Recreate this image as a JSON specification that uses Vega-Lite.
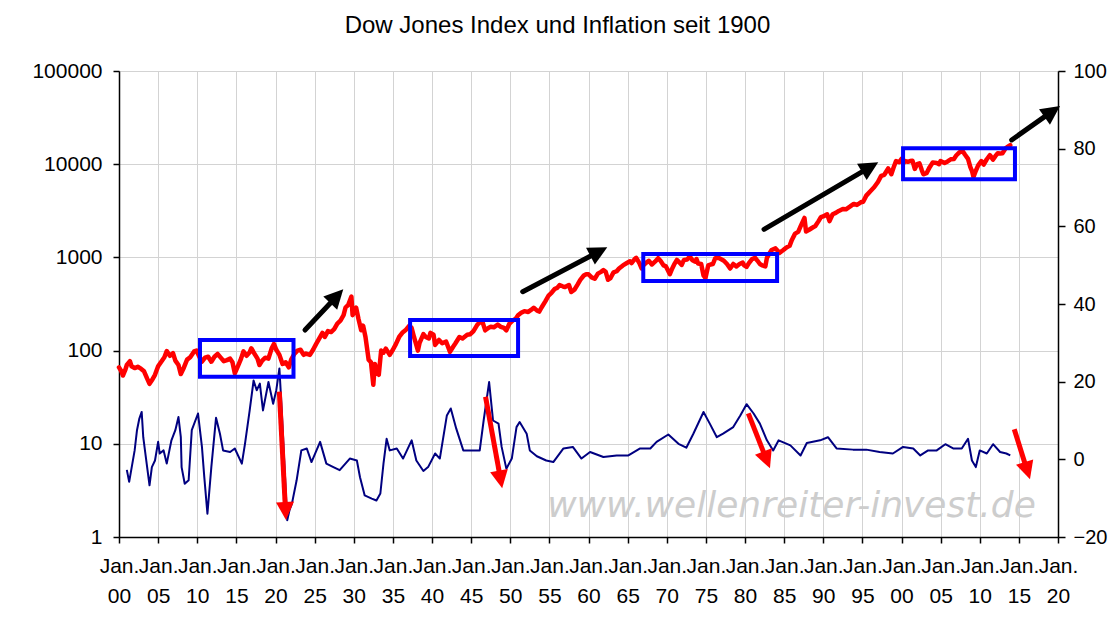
{
  "$schema": "https://vega.github.io/schema/vega-lite/v6.json",
  "width": 939,
  "height": 466,
  "autosize": {"type": "none"},
  "padding": {"left": 119, "top": 71, "right": 51, "bottom": 81},
  "background": "white",
  "title": {"text": "Dow Jones Index und Inflation seit 1900", "anchor": "middle", "dx": -31, "fontSize": 24, "fontWeight": "normal", "font": "Liberation Sans", "color": "black", "offset": 3, "baseline": "alphabetic"},
  "datasets": {
    "dow": [
      {"t":1900.0,"v":66},{"t":1900.3,"v":60},{"t":1900.5,"v":54},{"t":1900.8,"v":62},{"t":1901.0,"v":70},{"t":1901.4,"v":77},{"t":1901.6,"v":68},{"t":1902.0,"v":65},{"t":1902.4,"v":67},{"t":1902.8,"v":64},{"t":1903.2,"v":60},{"t":1903.6,"v":50},{"t":1903.9,"v":44},{"t":1904.2,"v":48},{"t":1904.6,"v":55},{"t":1905.0,"v":68},{"t":1905.4,"v":76},{"t":1905.8,"v":85},{"t":1906.1,"v":99},{"t":1906.5,"v":88},{"t":1906.9,"v":94},{"t":1907.2,"v":78},{"t":1907.6,"v":70},{"t":1907.9,"v":56},{"t":1908.3,"v":66},{"t":1908.7,"v":80},{"t":1909.1,"v":85},{"t":1909.6,"v":98},{"t":1909.9,"v":100},{"t":1910.3,"v":85},{"t":1910.6,"v":76},{"t":1911.0,"v":84},{"t":1911.4,"v":86},{"t":1911.8,"v":76},{"t":1912.2,"v":86},{"t":1912.6,"v":92},{"t":1913.0,"v":84},{"t":1913.4,"v":77},{"t":1913.8,"v":79},{"t":1914.2,"v":82},{"t":1914.5,"v":75},{"t":1914.8,"v":57},{"t":1915.2,"v":68},{"t":1915.6,"v":82},{"t":1915.9,"v":98},{"t":1916.3,"v":88},{"t":1916.7,"v":96},{"t":1916.9,"v":106},{"t":1917.3,"v":93},{"t":1917.7,"v":82},{"t":1917.95,"v":70},{"t":1918.3,"v":78},{"t":1918.7,"v":84},{"t":1919.1,"v":82},{"t":1919.5,"v":105},{"t":1919.8,"v":118},{"t":1920.1,"v":102},{"t":1920.5,"v":90},{"t":1920.9,"v":72},{"t":1921.3,"v":75},{"t":1921.7,"v":66},{"t":1922.0,"v":80},{"t":1922.4,"v":92},{"t":1922.8,"v":100},{"t":1923.2,"v":102},{"t":1923.6,"v":90},{"t":1923.9,"v":93},{"t":1924.4,"v":90},{"t":1924.8,"v":102},{"t":1925.2,"v":118},{"t":1925.6,"v":135},{"t":1926.0,"v":155},{"t":1926.3,"v":140},{"t":1926.7,"v":162},{"t":1927.1,"v":158},{"t":1927.5,"v":170},{"t":1927.9,"v":195},{"t":1928.3,"v":210},{"t":1928.7,"v":240},{"t":1928.95,"v":290},{"t":1929.3,"v":310},{"t":1929.7,"v":380},{"t":1929.85,"v":240},{"t":1930.1,"v":260},{"t":1930.3,"v":290},{"t":1930.6,"v":220},{"t":1930.95,"v":165},{"t":1931.2,"v":185},{"t":1931.5,"v":140},{"t":1931.9,"v":80},{"t":1932.2,"v":75},{"t":1932.5,"v":43},{"t":1932.7,"v":72},{"t":1933.0,"v":58},{"t":1933.2,"v":55},{"t":1933.5,"v":100},{"t":1933.8,"v":95},{"t":1934.1,"v":105},{"t":1934.6,"v":90},{"t":1935.0,"v":102},{"t":1935.4,"v":118},{"t":1935.8,"v":140},{"t":1936.2,"v":155},{"t":1936.6,"v":165},{"t":1937.1,"v":185},{"t":1937.4,"v":175},{"t":1937.7,"v":140},{"t":1938.2,"v":100},{"t":1938.4,"v":120},{"t":1938.9,"v":150},{"t":1939.2,"v":140},{"t":1939.6,"v":135},{"t":1939.8,"v":155},{"t":1940.2,"v":148},{"t":1940.4,"v":115},{"t":1940.9,"v":130},{"t":1941.3,"v":120},{"t":1941.8,"v":125},{"t":1942.3,"v":97},{"t":1942.7,"v":110},{"t":1943.0,"v":120},{"t":1943.5,"v":140},{"t":1943.9,"v":135},{"t":1944.5,"v":148},{"t":1944.9,"v":150},{"t":1945.3,"v":162},{"t":1945.8,"v":190},{"t":1946.1,"v":200},{"t":1946.4,"v":210},{"t":1946.8,"v":165},{"t":1947.2,"v":175},{"t":1947.5,"v":180},{"t":1947.9,"v":178},{"t":1948.4,"v":190},{"t":1948.8,"v":180},{"t":1949.2,"v":175},{"t":1949.5,"v":165},{"t":1949.9,"v":195},{"t":1950.3,"v":210},{"t":1950.7,"v":220},{"t":1951.0,"v":240},{"t":1951.4,"v":255},{"t":1951.8,"v":265},{"t":1952.3,"v":260},{"t":1952.7,"v":275},{"t":1953.0,"v":288},{"t":1953.4,"v":270},{"t":1953.7,"v":262},{"t":1954.0,"v":290},{"t":1954.5,"v":340},{"t":1954.9,"v":390},{"t":1955.3,"v":420},{"t":1955.7,"v":460},{"t":1956.0,"v":470},{"t":1956.3,"v":505},{"t":1956.7,"v":490},{"t":1957.0,"v":480},{"t":1957.5,"v":505},{"t":1957.8,"v":425},{"t":1958.2,"v":450},{"t":1958.6,"v":510},{"t":1958.95,"v":575},{"t":1959.4,"v":640},{"t":1959.7,"v":660},{"t":1960.0,"v":660},{"t":1960.4,"v":610},{"t":1960.8,"v":590},{"t":1961.2,"v":670},{"t":1961.6,"v":700},{"t":1961.9,"v":730},{"t":1962.2,"v":700},{"t":1962.5,"v":575},{"t":1962.8,"v":600},{"t":1963.2,"v":690},{"t":1963.6,"v":710},{"t":1963.9,"v":760},{"t":1964.4,"v":820},{"t":1964.9,"v":870},{"t":1965.3,"v":910},{"t":1965.5,"v":870},{"t":1965.9,"v":960},{"t":1966.1,"v":990},{"t":1966.5,"v":870},{"t":1966.8,"v":760},{"t":1967.0,"v":820},{"t":1967.4,"v":880},{"t":1967.7,"v":920},{"t":1968.1,"v":840},{"t":1968.5,"v":900},{"t":1968.9,"v":980},{"t":1969.2,"v":920},{"t":1969.6,"v":820},{"t":1969.9,"v":800},{"t":1970.4,"v":660},{"t":1970.7,"v":760},{"t":1970.95,"v":840},{"t":1971.3,"v":940},{"t":1971.7,"v":870},{"t":1971.9,"v":830},{"t":1972.2,"v":940},{"t":1972.6,"v":950},{"t":1972.95,"v":1020},{"t":1973.3,"v":930},{"t":1973.6,"v":900},{"t":1973.8,"v":960},{"t":1974.0,"v":860},{"t":1974.4,"v":850},{"t":1974.7,"v":640},{"t":1974.95,"v":600},{"t":1975.3,"v":820},{"t":1975.6,"v":840},{"t":1975.9,"v":850},{"t":1976.2,"v":980},{"t":1976.6,"v":990},{"t":1976.9,"v":960},{"t":1977.3,"v":920},{"t":1977.7,"v":850},{"t":1978.1,"v":760},{"t":1978.5,"v":850},{"t":1978.9,"v":800},{"t":1979.3,"v":850},{"t":1979.7,"v":880},{"t":1979.9,"v":820},{"t":1980.2,"v":790},{"t":1980.5,"v":870},{"t":1980.9,"v":960},{"t":1981.3,"v":990},{"t":1981.6,"v":920},{"t":1981.9,"v":850},{"t":1982.2,"v":820},{"t":1982.6,"v":800},{"t":1982.8,"v":990},{"t":1983.0,"v":1060},{"t":1983.4,"v":1200},{"t":1983.9,"v":1250},{"t":1984.4,"v":1120},{"t":1984.9,"v":1200},{"t":1985.3,"v":1280},{"t":1985.7,"v":1330},{"t":1985.99,"v":1540},{"t":1986.4,"v":1800},{"t":1986.8,"v":1880},{"t":1987.1,"v":2150},{"t":1987.6,"v":2650},{"t":1987.8,"v":1900},{"t":1988.2,"v":1980},{"t":1988.6,"v":2080},{"t":1988.99,"v":2170},{"t":1989.4,"v":2450},{"t":1989.7,"v":2700},{"t":1989.99,"v":2750},{"t":1990.5,"v":2900},{"t":1990.8,"v":2450},{"t":1991.2,"v":2900},{"t":1991.6,"v":3000},{"t":1991.99,"v":3150},{"t":1992.5,"v":3300},{"t":1992.9,"v":3280},{"t":1993.4,"v":3500},{"t":1993.9,"v":3750},{"t":1994.3,"v":3650},{"t":1994.8,"v":3900},{"t":1995.1,"v":3950},{"t":1995.5,"v":4600},{"t":1995.99,"v":5100},{"t":1996.5,"v":5650},{"t":1996.99,"v":6450},{"t":1997.4,"v":7500},{"t":1997.8,"v":7700},{"t":1998.3,"v":9000},{"t":1998.7,"v":7800},{"t":1998.99,"v":9200},{"t":1999.3,"v":10800},{"t":1999.7,"v":10500},{"t":1999.99,"v":11400},{"t":2000.2,"v":10200},{"t":2000.5,"v":10800},{"t":2000.8,"v":10600},{"t":2001.1,"v":10800},{"t":2001.4,"v":10900},{"t":2001.7,"v":8900},{"t":2001.99,"v":10000},{"t":2002.3,"v":10200},{"t":2002.6,"v":8600},{"t":2002.8,"v":7800},{"t":2003.2,"v":8000},{"t":2003.6,"v":9300},{"t":2003.99,"v":10400},{"t":2004.5,"v":10300},{"t":2004.8,"v":10000},{"t":2004.99,"v":10800},{"t":2005.5,"v":10300},{"t":2005.9,"v":10700},{"t":2006.3,"v":11300},{"t":2006.7,"v":11400},{"t":2006.99,"v":12400},{"t":2007.4,"v":13400},{"t":2007.8,"v":13900},{"t":2008.1,"v":12700},{"t":2008.5,"v":11400},{"t":2008.8,"v":9300},{"t":2009.0,"v":8500},{"t":2009.2,"v":7300},{"t":2009.5,"v":8500},{"t":2009.8,"v":9700},{"t":2010.2,"v":10800},{"t":2010.5,"v":9900},{"t":2010.9,"v":11300},{"t":2011.3,"v":12500},{"t":2011.7,"v":11200},{"t":2011.99,"v":12200},{"t":2012.3,"v":13100},{"t":2012.6,"v":13000},{"t":2012.9,"v":13100},{"t":2013.3,"v":14800},{"t":2013.6,"v":15400},{"t":2013.9,"v":16000}
    ],
    "infl": [
      {"t":1901.0,"v":-2.7},{"t":1901.3,"v":-5.8},{"t":1902.0,"v":2.3},{"t":1902.3,"v":7.5},{"t":1902.6,"v":10.5},{"t":1902.9,"v":12.2},{"t":1903.1,"v":5.7},{"t":1903.4,"v":1.0},{"t":1903.9,"v":-6.7},{"t":1904.2,"v":-2.0},{"t":1904.6,"v":-0.3},{"t":1905.0,"v":4.5},{"t":1905.2,"v":1.5},{"t":1905.7,"v":2.3},{"t":1906.1,"v":-1.1},{"t":1906.7,"v":4.9},{"t":1907.2,"v":7.5},{"t":1907.6,"v":10.9},{"t":1907.9,"v":5.7},{"t":1908.0,"v":-2.0},{"t":1908.4,"v":-6.3},{"t":1908.9,"v":-5.4},{"t":1909.3,"v":7.5},{"t":1910.1,"v":11.8},{"t":1910.6,"v":3.2},{"t":1910.9,"v":-4.6},{"t":1911.3,"v":-14.0},{"t":1911.8,"v":-2.0},{"t":1912.4,"v":10.7},{"t":1912.9,"v":6.6},{"t":1913.3,"v":2.3},{"t":1914.2,"v":1.9},{"t":1914.8,"v":2.8},{"t":1915.7,"v":-1.1},{"t":1916.1,"v":4.0},{"t":1916.7,"v":12.6},{"t":1917.2,"v":20.3},{"t":1917.6,"v":17.8},{"t":1918.0,"v":19.5},{"t":1918.4,"v":12.6},{"t":1919.1,"v":19.9},{"t":1919.7,"v":14.3},{"t":1920.1,"v":17.8},{"t":1920.5,"v":23.4},{"t":1920.8,"v":12.6},{"t":1921.2,"v":-3.7},{"t":1921.5,"v":-15.7},{"t":1921.8,"v":-13.0},{"t":1922.1,"v":-11.4},{"t":1922.7,"v":-5.4},{"t":1923.3,"v":2.3},{"t":1924.0,"v":2.8},{"t":1924.6,"v":-0.7},{"t":1925.7,"v":4.5},{"t":1926.5,"v":-1.1},{"t":1927.4,"v":-2.0},{"t":1928.2,"v":-2.8},{"t":1929.5,"v":0.2},{"t":1930.4,"v":-0.3},{"t":1930.8,"v":-4.6},{"t":1931.4,"v":-9.3},{"t":1932.3,"v":-10.1},{"t":1932.9,"v":-10.6},{"t":1933.4,"v":-8.8},{"t":1933.8,"v":-1.1},{"t":1934.2,"v":5.3},{"t":1934.6,"v":2.3},{"t":1935.5,"v":2.8},{"t":1936.3,"v":0.2},{"t":1937.4,"v":4.9},{"t":1938.0,"v":-0.3},{"t":1938.9,"v":-3.0},{"t":1939.5,"v":-2.0},{"t":1940.4,"v":1.5},{"t":1941.0,"v":0.2},{"t":1941.9,"v":11.3},{"t":1942.4,"v":13.1},{"t":1943.1,"v":7.9},{"t":1944.0,"v":2.3},{"t":1944.8,"v":2.3},{"t":1946.1,"v":2.3},{"t":1946.6,"v":10.0},{"t":1947.3,"v":19.9},{"t":1947.8,"v":10.0},{"t":1948.5,"v":9.2},{"t":1948.9,"v":3.2},{"t":1949.5,"v":-2.4},{"t":1950.2,"v":0.2},{"t":1950.8,"v":8.3},{"t":1951.2,"v":9.6},{"t":1952.1,"v":6.6},{"t":1952.5,"v":2.3},{"t":1953.4,"v":0.8},{"t":1954.6,"v":-0.3},{"t":1955.5,"v":-0.7},{"t":1956.8,"v":2.8},{"t":1958.0,"v":3.2},{"t":1959.1,"v":0.2},{"t":1960.2,"v":1.9},{"t":1961.9,"v":0.6},{"t":1963.6,"v":1.0},{"t":1965.1,"v":1.0},{"t":1966.6,"v":2.8},{"t":1967.9,"v":2.8},{"t":1968.7,"v":4.5},{"t":1970.2,"v":6.4},{"t":1971.5,"v":4.0},{"t":1972.5,"v":3.0},{"t":1973.4,"v":6.6},{"t":1974.7,"v":12.2},{"t":1975.5,"v":9.2},{"t":1976.4,"v":5.7},{"t":1977.2,"v":6.6},{"t":1978.5,"v":8.3},{"t":1979.4,"v":11.3},{"t":1980.2,"v":14.2},{"t":1981.1,"v":11.8},{"t":1981.9,"v":9.2},{"t":1982.8,"v":4.9},{"t":1983.6,"v":2.3},{"t":1984.3,"v":4.9},{"t":1985.8,"v":3.6},{"t":1987.1,"v":1.0},{"t":1987.9,"v":4.2},{"t":1989.6,"v":4.9},{"t":1990.6,"v":5.7},{"t":1991.7,"v":2.8},{"t":1993.8,"v":2.5},{"t":1995.5,"v":2.5},{"t":1997.2,"v":1.9},{"t":1998.9,"v":1.5},{"t":2000.2,"v":3.2},{"t":2001.5,"v":2.8},{"t":2002.4,"v":1.0},{"t":2003.4,"v":2.3},{"t":2004.5,"v":2.3},{"t":2005.6,"v":3.9},{"t":2006.6,"v":2.8},{"t":2007.7,"v":2.8},{"t":2008.5,"v":5.3},{"t":2009.0,"v":-0.3},{"t":2009.5,"v":-2.0},{"t":2010.0,"v":2.3},{"t":2010.9,"v":1.5},{"t":2011.7,"v":3.9},{"t":2012.6,"v":1.9},{"t":2013.4,"v":1.5},{"t":2013.9,"v":1.0}
    ],
    "boxes": [
      {"t0":1910.35,"t1":1922.3,"v0":52.5,"v1":130},
      {"t0":1937.2,"t1":1951.0,"v0":87.5,"v1":213},
      {"t0":1967.0,"t1":1984.1,"v0":558,"v1":1088},
      {"t0":2000.2,"t1":2014.5,"v0":6890,"v1":14800}
    ],
    "blackArrows": [
      {"t0":1923.77,"v0":166.3,"te":1927.44,"ve":353,"t1":1928.66,"v1":454.7,"dir":43.3},
      {"t0":1951.59,"v0":428.5,"te":1960.81,"ve":1093,"t1":1962.40,"v1":1283,"dir":62.3},
      {"t0":1982.43,"v0":2001,"te":1995.49,"ve":8794,"t1":1997.03,"v1":10480,"dir":59.6},
      {"t0":2014.08,"v0":18190,"te":2018.80,"ve":34660,"t1":2020.26,"v1":42140,"dir":54.9}
    ],
    "redArrows": [
      {"t0":1920.49,"v0":36.2,"te":1921.26,"ve":2.05,"t1":1921.34,"v1":1.52,"dir":177.0},
      {"t0":1946.84,"v0":32.0,"te":1948.70,"ve":4.46,"t1":1948.97,"v1":3.33,"dir":169.7},
      {"t0":1980.42,"v0":21.2,"te":1982.62,"ve":7.2,"t1":1983.19,"v1":5.46,"dir":158.5},
      {"t0":2014.41,"v0":14.3,"te":2015.96,"ve":5.51,"t1":2016.42,"v1":4.16,"dir":162.6}
    ],
    "watermark": [{"t":1985.94,"v":1.64,"label":"www.wellenreiter-invest.de"}]
  },
  "layer": [
    {
      "data": {"name": "infl"},
      "mark": {"type": "line", "color": "#000080", "strokeWidth": 2, "strokeJoin": "round"},
      "encoding": {
        "x": {"field": "t", "type": "quantitative", "scale": {"domain": [1900, 2020], "nice": false, "zero": false},
              "axis": {"values": [1900,1905,1910,1915,1920,1925,1930,1935,1940,1945,1950,1955,1960,1965,1970,1975,1980,1985,1990,1995,2000,2005,2010,2015,2020], "labelExpr": "['Jan.', pad(toString(datum.value % 100), 2, '0', 'left')]", "labelOverlap": false, "labelFlush": false, "labelBound": false, "labelLineHeight": 30, "labelPadding": 12, "grid": true, "title": null}},
        "y": {"field": "v", "type": "quantitative", "scale": {"domain": [-20, 100], "nice": false, "zero": false},
              "axis": {"orient": "right", "values": [-20,0,20,40,60,80,100], "grid": false, "title": null, "labelPadding": 8, "tickSize": 7, "labelFontSize": 20}}
      }
    },
    {
      "layer": [
        {
          "data": {"name": "watermark"},
          "mark": {"type": "text", "font": "DejaVu Sans", "fontStyle": "italic", "fontSize": 36, "color": "#cdcdcd", "align": "center", "baseline": "alphabetic"},
          "encoding": {
            "x": {"field": "t", "type": "quantitative", "scale": {"domain": [1900, 2020], "nice": false, "zero": false},
                  "axis": {"values": [1900,1905,1910,1915,1920,1925,1930,1935,1940,1945,1950,1955,1960,1965,1970,1975,1980,1985,1990,1995,2000,2005,2010,2015,2020], "labelExpr": "['Jan.', pad(toString(datum.value % 100), 2, '0', 'left')]", "labelOverlap": false, "labelFlush": false, "labelBound": false, "labelLineHeight": 30, "labelPadding": 12, "grid": true, "title": null}},
            "y": {"field": "v", "type": "quantitative", "scale": {"type": "log", "domain": [1, 100000], "nice": false},
                  "axis": {"orient": "left", "values": [1,10,100,1000,10000,100000], "format": "d", "grid": true, "title": null, "labelPadding": 11}},
            "text": {"field": "label"}
          }
        },
        {
          "data": {"name": "dow"},
          "mark": {"type": "line", "color": "#FF0000", "strokeWidth": 4.5, "strokeJoin": "round", "strokeCap": "round"},
          "encoding": {
            "x": {"field": "t", "type": "quantitative", "scale": {"domain": [1900, 2020], "nice": false, "zero": false},
                  "axis": {"values": [1900,1905,1910,1915,1920,1925,1930,1935,1940,1945,1950,1955,1960,1965,1970,1975,1980,1985,1990,1995,2000,2005,2010,2015,2020], "labelExpr": "['Jan.', pad(toString(datum.value % 100), 2, '0', 'left')]", "labelOverlap": false, "labelFlush": false, "labelBound": false, "labelLineHeight": 30, "labelPadding": 12, "grid": true, "title": null}},
            "y": {"field": "v", "type": "quantitative", "scale": {"type": "log", "domain": [1, 100000], "nice": false},
                  "axis": {"orient": "left", "values": [1,10,100,1000,10000,100000], "format": "d", "grid": true, "title": null, "labelPadding": 11}}
          }
        },
        {
          "data": {"name": "boxes"},
          "mark": {"type": "rect", "fill": null, "fillOpacity": 0, "stroke": "#0000FF", "strokeWidth": 4},
          "encoding": {
            "x": {"field": "t0", "type": "quantitative", "scale": {"domain": [1900, 2020], "nice": false, "zero": false},
                  "axis": {"values": [1900,1905,1910,1915,1920,1925,1930,1935,1940,1945,1950,1955,1960,1965,1970,1975,1980,1985,1990,1995,2000,2005,2010,2015,2020], "labelExpr": "['Jan.', pad(toString(datum.value % 100), 2, '0', 'left')]", "labelOverlap": false, "labelFlush": false, "labelBound": false, "labelLineHeight": 30, "labelPadding": 12, "grid": true, "title": null}},
            "x2": {"field": "t1"},
            "y": {"field": "v0", "type": "quantitative", "scale": {"type": "log", "domain": [1, 100000], "nice": false},
                  "axis": {"orient": "left", "values": [1,10,100,1000,10000,100000], "format": "d", "grid": true, "title": null, "labelPadding": 11}},
            "y2": {"field": "v1"}
          }
        },
        {
          "data": {"name": "blackArrows"},
          "mark": {"type": "rule", "color": "black", "strokeWidth": 5, "strokeCap": "round"},
          "encoding": {
            "x": {"field": "t0", "type": "quantitative", "scale": {"domain": [1900, 2020], "nice": false, "zero": false},
                  "axis": {"values": [1900,1905,1910,1915,1920,1925,1930,1935,1940,1945,1950,1955,1960,1965,1970,1975,1980,1985,1990,1995,2000,2005,2010,2015,2020], "labelExpr": "['Jan.', pad(toString(datum.value % 100), 2, '0', 'left')]", "labelOverlap": false, "labelFlush": false, "labelBound": false, "labelLineHeight": 30, "labelPadding": 12, "grid": true, "title": null}},
            "x2": {"field": "te"},
            "y": {"field": "v0", "type": "quantitative", "scale": {"type": "log", "domain": [1, 100000], "nice": false},
                  "axis": {"orient": "left", "values": [1,10,100,1000,10000,100000], "format": "d", "grid": true, "title": null, "labelPadding": 11}},
            "y2": {"field": "ve"}
          }
        },
        {
          "data": {"name": "blackArrows"},
          "mark": {"type": "point", "shape": "M0,0L-1,2L1,2Z", "filled": true, "color": "black", "opacity": 1, "size": 361, "strokeWidth": 0},
          "encoding": {
            "x": {"field": "t1", "type": "quantitative", "scale": {"domain": [1900, 2020], "nice": false, "zero": false},
                  "axis": {"values": [1900,1905,1910,1915,1920,1925,1930,1935,1940,1945,1950,1955,1960,1965,1970,1975,1980,1985,1990,1995,2000,2005,2010,2015,2020], "labelExpr": "['Jan.', pad(toString(datum.value % 100), 2, '0', 'left')]", "labelOverlap": false, "labelFlush": false, "labelBound": false, "labelLineHeight": 30, "labelPadding": 12, "grid": true, "title": null}},
            "y": {"field": "v1", "type": "quantitative", "scale": {"type": "log", "domain": [1, 100000], "nice": false},
                  "axis": {"orient": "left", "values": [1,10,100,1000,10000,100000], "format": "d", "grid": true, "title": null, "labelPadding": 11}},
            "angle": {"field": "dir", "type": "quantitative", "scale": null}
          }
        },
        {
          "data": {"name": "redArrows"},
          "mark": {"type": "rule", "color": "#FF0000", "strokeWidth": 5, "strokeCap": "butt"},
          "encoding": {
            "x": {"field": "t0", "type": "quantitative", "scale": {"domain": [1900, 2020], "nice": false, "zero": false},
                  "axis": {"values": [1900,1905,1910,1915,1920,1925,1930,1935,1940,1945,1950,1955,1960,1965,1970,1975,1980,1985,1990,1995,2000,2005,2010,2015,2020], "labelExpr": "['Jan.', pad(toString(datum.value % 100), 2, '0', 'left')]", "labelOverlap": false, "labelFlush": false, "labelBound": false, "labelLineHeight": 30, "labelPadding": 12, "grid": true, "title": null}},
            "x2": {"field": "te"},
            "y": {"field": "v0", "type": "quantitative", "scale": {"type": "log", "domain": [1, 100000], "nice": false},
                  "axis": {"orient": "left", "values": [1,10,100,1000,10000,100000], "format": "d", "grid": true, "title": null, "labelPadding": 11}},
            "y2": {"field": "ve"}
          }
        },
        {
          "data": {"name": "redArrows"},
          "mark": {"type": "point", "shape": "M0,0L-1,2L1,2Z", "filled": true, "color": "#FF0000", "opacity": 1, "size": 324, "strokeWidth": 0},
          "encoding": {
            "x": {"field": "t1", "type": "quantitative", "scale": {"domain": [1900, 2020], "nice": false, "zero": false},
                  "axis": {"values": [1900,1905,1910,1915,1920,1925,1930,1935,1940,1945,1950,1955,1960,1965,1970,1975,1980,1985,1990,1995,2000,2005,2010,2015,2020], "labelExpr": "['Jan.', pad(toString(datum.value % 100), 2, '0', 'left')]", "labelOverlap": false, "labelFlush": false, "labelBound": false, "labelLineHeight": 30, "labelPadding": 12, "grid": true, "title": null}},
            "y": {"field": "v1", "type": "quantitative", "scale": {"type": "log", "domain": [1, 100000], "nice": false},
                  "axis": {"orient": "left", "values": [1,10,100,1000,10000,100000], "format": "d", "grid": true, "title": null, "labelPadding": 11}},
            "angle": {"field": "dir", "type": "quantitative", "scale": null}
          }
        }
      ]
    }
  ],
  "resolve": {"scale": {"y": "independent"}},
  "config": {
    "font": "Liberation Sans",
    "view": {"stroke": "#808080", "strokeWidth": 1},
    "axis": {"labelFont": "Liberation Sans", "labelColor": "black", "labelFontSize": 21, "tickColor": "black", "domainColor": "black", "domainWidth": 1.5, "tickWidth": 1.5, "tickSize": 6, "gridColor": "#d3d3d3", "gridWidth": 1}
  }
}
